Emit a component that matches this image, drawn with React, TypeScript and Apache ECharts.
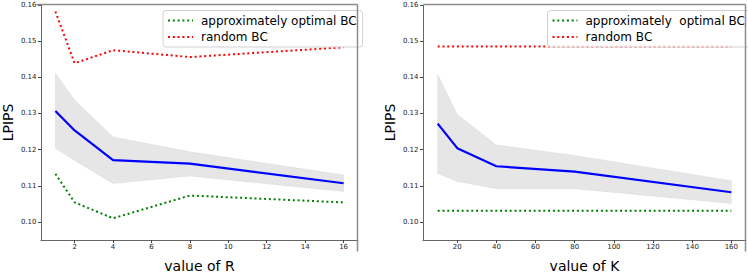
import React, { useEffect, useRef } from "react";
import * as echarts from "echarts";

// ---- Data: left panel (value of R) ----
const rValues = [1, 2, 4, 8, 16];
const rMean = [0.1307, 0.1253, 0.1171, 0.1161, 0.1107];
const rUpper = [0.1411, 0.1337, 0.1235, 0.1194, 0.113];
const rLower = [0.1204, 0.117, 0.1106, 0.1127, 0.1084];
const rOptimal = [0.1133, 0.1054, 0.101, 0.1073, 0.1054];
const rRandom = [0.1582, 0.1439, 0.1475, 0.1456, 0.1483];
const rTicks = [2, 4, 6, 8, 10, 12, 14, 16];

// ---- Data: right panel (value of K) ----
const kValues = [10, 20, 40, 80, 160];
const kMean = [0.1272, 0.1204, 0.1154, 0.1139, 0.1082];
const kUpper = [0.1408, 0.1297, 0.1213, 0.1184, 0.1114];
const kLower = [0.1134, 0.1112, 0.1092, 0.1092, 0.1051];
const kOptimal = [0.1031, 0.1031, 0.1031, 0.1031, 0.1031];
const kRandom = [0.1485, 0.1485, 0.1485, 0.1485, 0.1485];
const kTicks = [20, 40, 60, 80, 100, 120, 140, 160];

const yTicks = [0.1, 0.11, 0.12, 0.13, 0.14, 0.15, 0.16];

const FONT = "DejaVu Sans";
const DOT = [2, 2.8];
const Y_MIN = 0.095;
const Y_MAX = 0.16;

const GRIDS = [
  { left: 36, top: 5, width: 322, height: 246 },
  { left: 423, top: 5, width: 323, height: 246 },
];

function pairs(xs: number[], ys: number[]) {
  return xs.map((x, i) => [x, ys[i]]);
}

function bandSeries(idx: number, xs: number[], lo: number[], hi: number[]) {
  return {
    type: "custom",
    xAxisIndex: idx,
    yAxisIndex: idx,
    silent: true,
    z: 1,
    data: pairs(xs, lo),
    encode: { x: 0, y: 1 },
    renderItem: (params: any, api: any) => {
      if (params.dataIndex !== 0) return null;
      const pts: number[][] = [];
      xs.forEach((x, i) => pts.push(api.coord([x, hi[i]])));
      for (let i = xs.length - 1; i >= 0; i--) pts.push(api.coord([xs[i], lo[i]]));
      return {
        type: "polygon",
        shape: { points: pts },
        style: { fill: "rgba(128,128,128,0.2)", stroke: "rgba(128,128,128,0.12)", lineWidth: 0.8 },
      };
    },
  };
}

function lineSeries(idx: number, name: string, xs: number[], ys: number[], color: string, dotted: boolean) {
  return {
    type: "line",
    name,
    xAxisIndex: idx,
    yAxisIndex: idx,
    data: pairs(xs, ys),
    symbol: "none",
    z: dotted ? 3 : 2,
    itemStyle: { color },
    lineStyle: dotted
      ? { color, width: 2, type: DOT, cap: "butt" }
      : { color, width: 2.2 },
  };
}

function xAxis(idx: number, min: number, max: number, ticks: number[], name: string) {
  return {
    type: "value",
    gridIndex: idx,
    position: "bottom",
    min,
    max,
    name,
    nameLocation: "middle",
    nameGap: 19,
    nameTextStyle: { fontFamily: FONT, fontSize: 14, color: "#000" },
    splitLine: { show: false },
    axisLine: { show: true, onZero: false, lineStyle: { color: "#666", width: 1 } },
    axisTick: { show: true, length: 3, customValues: ticks, lineStyle: { color: "#444" } },
    axisLabel: {
      customValues: ticks,
      fontFamily: FONT,
      fontSize: 7,
      color: "#222",
      margin: 3,
      formatter: (v: number) => String(v),
    },
  };
}

function yAxis(idx: number) {
  return {
    type: "value",
    gridIndex: idx,
    position: "left",
    min: Y_MIN,
    max: Y_MAX,
    name: "LPIPS",
    nameLocation: "middle",
    nameGap: 26,
    nameTextStyle: { fontFamily: FONT, fontSize: 14, color: "#000" },
    splitLine: { show: false },
    axisLine: { show: true, onZero: false, lineStyle: { color: "#666", width: 1 } },
    axisTick: { show: true, length: 3, customValues: yTicks, lineStyle: { color: "#444" } },
    axisLabel: {
      customValues: yTicks,
      fontFamily: FONT,
      fontSize: 7,
      color: "#222",
      margin: 4.5,
      formatter: (v: number) => v.toFixed(2),
    },
  };
}

function legend(left: number, names: string[]) {
  return {
    data: names,
    left,
    top: 10.5,
    orient: "vertical",
    itemWidth: 25,
    itemHeight: 12,
    itemGap: 4.5,
    padding: [4, 6, 4, 4],
    borderColor: "#d0d0d0",
    borderWidth: 1,
    borderRadius: 3,
    backgroundColor: "rgba(255,255,255,0.8)",
    selectedMode: false,
    itemStyle: { opacity: 0 },
    textStyle: { fontFamily: FONT, fontSize: 12, color: "#000", padding: [0, 0, 0, 3] },
  };
}

function frameLines(g: { left: number; top: number; width: number; height: number }) {
  const x0 = g.left + 0.5;
  const y0 = g.top - 0.5;
  const x1 = g.left + g.width - 0.5;
  const y1 = g.top + g.height + 0.5;
  const st = { stroke: "#8c8c8c", lineWidth: 1.5 };
  return [
    { type: "line", silent: true, z: 10, shape: { x1: x0, y1: y0, x2: x1, y2: y0 }, style: st },
    { type: "line", silent: true, z: 10, shape: { x1: x1, y1: y0, x2: x1, y2: y1 }, style: st },
  ];
}

export default function App() {
  const ref = useRef<HTMLDivElement>(null);
  useEffect(() => {
    document.body.style.margin = "0";
    const chart = echarts.init(ref.current!, null, { renderer: "svg" });
    chart.setOption({
      animation: false,
      backgroundColor: "#fff",
      grid: GRIDS,
      graphic: { elements: [...frameLines(GRIDS[0]), ...frameLines(GRIDS[1])] },
      xAxis: [
        xAxis(0, 0.25, 16.75, rTicks, "value of R"),
        xAxis(1, 2.5, 167.5, kTicks, "value of K"),
      ],
      yAxis: [yAxis(0), yAxis(1)],
      legend: [
        legend(163, ["approximately optimal BC", "random BC"]),
        legend(547.5, ["approximately  optimal BC", "random BC "]),
      ],
      series: [
        bandSeries(0, rValues, rLower, rUpper),
        lineSeries(0, "mean R", rValues, rMean, "blue", false),
        lineSeries(0, "approximately optimal BC", rValues, rOptimal, "green", true),
        lineSeries(0, "random BC", rValues, rRandom, "red", true),
        bandSeries(1, kValues, kLower, kUpper),
        lineSeries(1, "mean K", kValues, kMean, "blue", false),
        lineSeries(1, "approximately  optimal BC", kValues, kOptimal, "green", true),
        lineSeries(1, "random BC ", kValues, kRandom, "red", true),
      ],
    });
    return () => chart.dispose();
  }, []);
  return <div ref={ref} style={{ width: 748, height: 278 }} />;
}
